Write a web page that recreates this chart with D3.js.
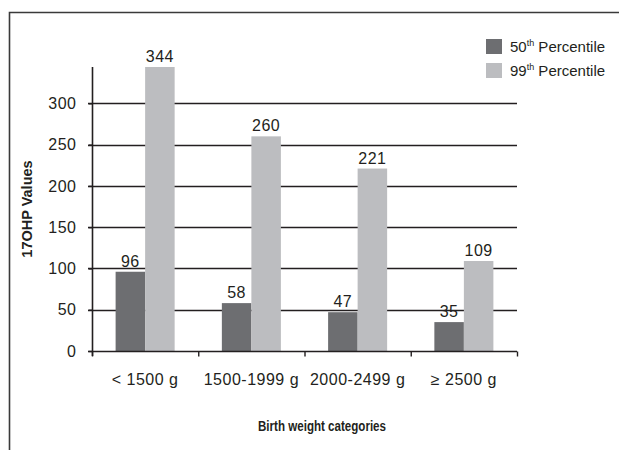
<!DOCTYPE html>
<html>
<head>
<meta charset="utf-8">
<script src="https://cdn.jsdelivr.net/npm/d3@7"></script>
<style>
  body { margin: 0; background: #fff; }
  svg { display: block; font-family: "Liberation Sans", Arial, sans-serif; }
</style>
</head>
<body>
<svg id="chart" width="619" height="450"></svg>
<script>
const categories = ["< 1500 g", "1500-1999 g", "2000-2499 g", "\u2265 2500 g"];
const seriesNames = ["50th", "99th"];
const p50 = [96, 58, 47, 35];
const p99 = [344, 260, 221, 109];
const yTicks = [0, 50, 100, 150, 200, 250, 300];
const colors = ["#6d6e71", "#bcbdc0"];
const ink = "#231f20";

const svg = d3.select("#chart");
const margin = { left: 92, right: 102, top: 67, bottom: 99 };
const W = 619, H = 450;

const x = d3.scaleBand().domain(categories).range([margin.left, W - margin.right]).padding(0);
const xs = d3.scaleBand().domain(seriesNames).range([0, x.bandwidth()]).paddingInner(0).paddingOuter(0.8);
const y = d3.scaleLinear().domain([0, 344]).range([H - margin.bottom, margin.top]);

// frame
svg.append("path").attr("d", `M9.5,${H} L9.5,12.5 L${W},12.5`)
  .attr("fill", "none").attr("stroke", "#3a3a3a").attr("stroke-width", 1.6);

// gridlines
svg.append("g").selectAll("line").data(yTicks.filter(d => d > 0)).join("line")
  .attr("x1", margin.left - 4).attr("x2", W - margin.right)
  .attr("y1", d => Math.round(y(d)) + 0.5).attr("y2", d => Math.round(y(d)) + 0.5)
  .attr("stroke", ink).attr("stroke-width", 1.4);

const rows = categories.map((c, i) => ({ cat: c, vals: [p50[i], p99[i]] }));

// bars
const g = svg.append("g").selectAll("g").data(rows).join("g")
  .attr("transform", d => `translate(${x(d.cat)},0)`);
g.selectAll("rect").data(d => d.vals.map((v, k) => ({ k, v }))).join("rect")
  .attr("x", d => xs(seriesNames[d.k]))
  .attr("width", xs.bandwidth())
  .attr("y", d => y(d.v))
  .attr("height", d => y(0) - y(d.v))
  .attr("fill", d => colors[d.k]);
g.selectAll("text").data(d => d.vals.map((v, k) => ({ k, v }))).join("text")
  .attr("x", d => xs(seriesNames[d.k]) + xs.bandwidth() / 2)
  .attr("y", d => y(d.v) - 5)
  .attr("text-anchor", "middle")
  .attr("font-size", 16).attr("letter-spacing", 0.5)
  .attr("fill", ink)
  .text(d => d.v);

// y axis
const yAxis = svg.append("g").attr("transform", `translate(${margin.left + 0.5},0)`)
  .call(d3.axisLeft(y).tickValues(yTicks).tickSize(4).tickPadding(12).tickSizeOuter(0));
yAxis.select(".domain").attr("d", `M0,${margin.top}V${y(0) + 5}`).attr("stroke", ink).attr("stroke-width", 1.6);
yAxis.selectAll(".tick line").attr("stroke", ink).attr("stroke-width", 1.4);
yAxis.selectAll(".tick text").attr("font-size", 16).attr("letter-spacing", 0.5)
  .attr("fill", ink).attr("font-family", "Liberation Sans, Arial, sans-serif");

// x axis
const xAxis = svg.append("g").attr("transform", `translate(0,${Math.round(y(0)) + 0.5})`)
  .call(d3.axisBottom(x).tickSize(0).tickPadding(22));
xAxis.select(".domain").attr("d", `M${margin.left - 4},0H${W - margin.right}`).attr("stroke", ink).attr("stroke-width", 1.6);
xAxis.selectAll(".tick text").attr("font-size", 16).attr("letter-spacing", 0.5)
  .attr("fill", ink).attr("font-family", "Liberation Sans, Arial, sans-serif");
// category boundary ticks
const bounds = categories.map(c => x(c)).concat([x(categories[categories.length - 1]) + x.bandwidth()]);
xAxis.append("g").selectAll("line").data(bounds).join("line")
  .attr("x1", d => d + 0.5).attr("x2", d => d + 0.5).attr("y1", 0).attr("y2", 5)
  .attr("stroke", ink).attr("stroke-width", 1.4);

// axis titles
svg.append("text")
  .attr("transform", `translate(32,${(y(0) + margin.top) / 2}) rotate(-90)`)
  .attr("text-anchor", "middle").attr("font-weight", "bold").attr("font-size", 14.5)
  .attr("fill", ink).text("17OHP Values");
svg.append("text")
  .attr("x", 322).attr("y", 431)
  .attr("text-anchor", "middle").attr("font-weight", "bold").attr("font-size", 14)
  .attr("textLength", 128).attr("lengthAdjust", "spacingAndGlyphs")
  .attr("fill", ink).text("Birth weight categories");

// legend
const leg = svg.append("g").selectAll("g").data(seriesNames).join("g")
  .attr("transform", (d, i) => `translate(486,${39 + i * 24})`);
leg.append("rect").attr("width", 16).attr("height", 15).attr("fill", (d, i) => colors[i]);
const lt = leg.append("text").attr("x", 24).attr("y", 13).attr("font-size", 15).attr("fill", ink);
lt.append("tspan").text(d => d.slice(0, 2));
lt.append("tspan").attr("font-size", 9).attr("dy", -6).text(d => d.slice(2));
lt.append("tspan").attr("dy", 6).text(" Percentile");
</script>
</body>
</html>
